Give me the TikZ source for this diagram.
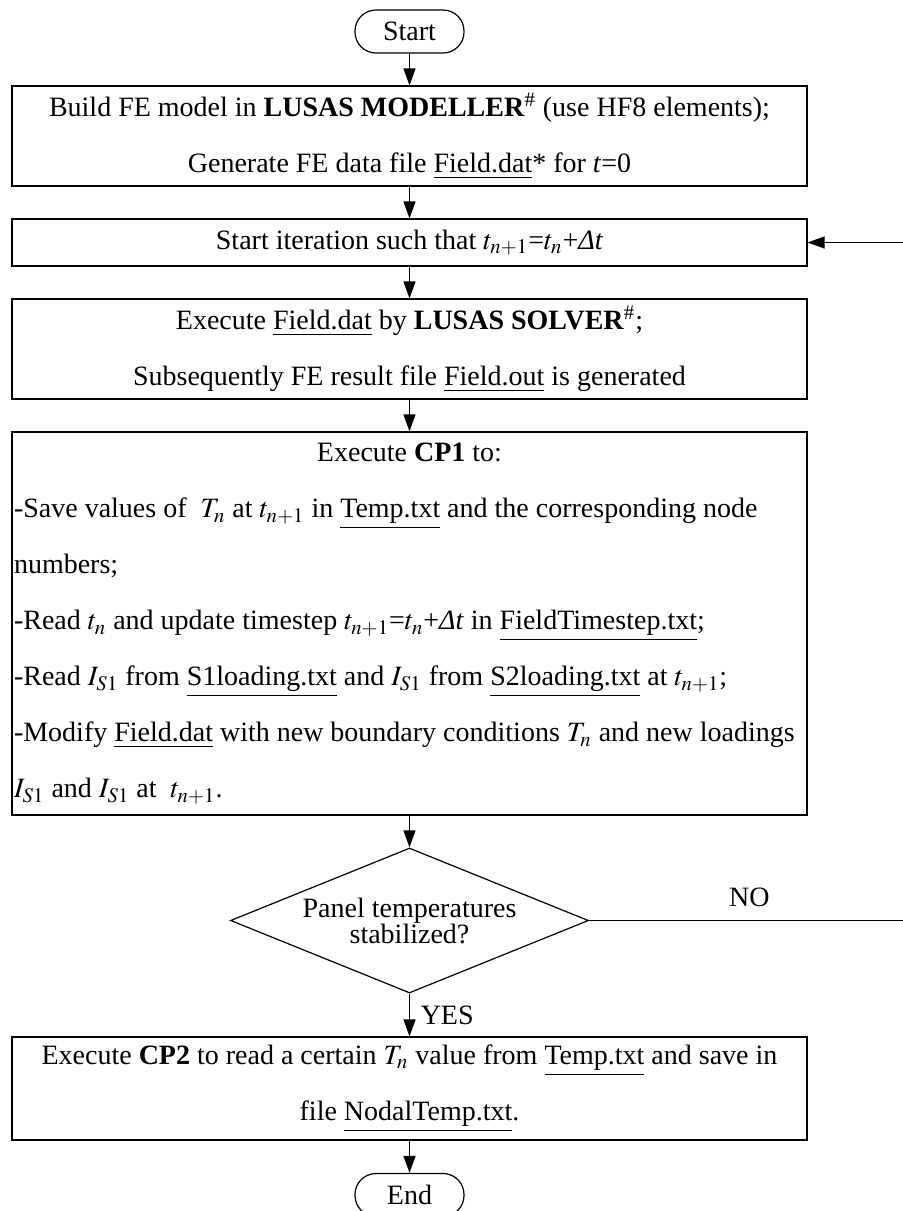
\documentclass[tikz,border=0pt]{standalone}
\usepackage{mathptmx}
\usepackage{fontspec}
\setmainfont{Liberation Serif}
\usetikzlibrary{arrows.meta,shapes.geometric}

\tikzset{
  every node/.style={font=\fontsize{14}{28}\selectfont},
  term/.style={draw, rounded corners=10.5pt, minimum width=54.5pt, minimum height=21.5pt, inner sep=0pt},
  proc/.style={draw, minimum width=397.5pt, text width=395.5pt, inner xsep=1pt, align=flush center},
  decide/.style={draw, diamond, aspect=2.47, inner sep=0pt, minimum width=179pt, minimum height=72.5pt, align=flush center, font=\fontsize{14}{13}\selectfont},
  flow/.style={-{Triangle[length=8.5pt,width=6pt]}}
}
\newcommand{\dt}{\textit{Δt}}

\begin{document}
\begin{tikzpicture}[x=0.5pt,y=-0.5pt,line width=0.6pt]
\useasboundingbox (0,0) rectangle (903,1211);

% Start and end of the chart
\node[term] (start) at (409.5,31.5) {Start};%
\node[term] (stop) at (409.5,1195) {End};%

% Build the model
\node[proc, minimum height=50pt] (model) at (409.5,136) {Build FE model in \textbf{LUSAS MODELLER}\textsuperscript{\#} (use HF8 elements);\\
  Generate FE data file \underline{Field.dat}* for \textit{t}=0};%

% Time step loop
\node[proc, minimum height=23.5pt] (iter) at (409.5,242.5) {Start iteration such that $t_{n+1}$=$t_n$+\dt};%

% Solver run
\node[proc, minimum height=50pt] (solve) at (409.5,349) {Execute \underline{Field.dat} by \textbf{LUSAS SOLVER}\textsuperscript{\#};\\
  Subsequently FE result file \underline{Field.out} is generated};%

% CP1 tasks
\node[proc, minimum height=191.5pt, align=flush left] (cpone) at (409.5,623.5) {\makebox[\linewidth][c]{Execute \textbf{CP1} to:}\\
  -Save values of\ \ $T_n$ at $t_{n+1}$ in \underline{Temp.txt} and the corresponding node\\
  numbers;\\
  -Read $t_n$ and update timestep $t_{n+1}$=$t_n$+\dt{} in \underline{FieldTimestep.txt};\\
  -Read $I_{S1}$ from \underline{S1loading.txt} and $I_{S1}$ from \underline{S2loading.txt} at $t_{n+1}$;\\
  -Modify \underline{Field.dat} with new boundary conditions $T_n$ and new loadings\\
  $I_{S1}$ and $I_{S1}$ at\ \ $t_{n+1}$.};%

% Check
\node[decide] (check) at (409.5,920.5) {Panel temperatures\\stabilized?};%

% CP2 task
\node[proc, minimum height=51.5pt] (cptwo) at (409.5,1088.5) {Execute \textbf{CP2} to read a certain $T_n$ value from \underline{Temp.txt} and save in\\
  file \underline{NodalTemp.txt}.};%

% Drawing the arrows
\draw[flow] (start) -- (model);%
\draw[flow] (model) -- (iter);%
\draw[flow] (iter) -- (solve);%
\draw[flow] (solve) -- (cpone);%
\draw[flow] (cpone) -- (check);%
\draw[flow] (check) -- node[right=2pt] {YES} (cptwo);%
\draw[flow] (cptwo) -- (stop);%

% Drawing the way back
\coordinate (back) at (930,920.5);%
\draw[flow] (check.east) -- node[pos=0.47, above=3pt] {NO} (back) |- (iter.east);%
\end{tikzpicture}
\end{document}
